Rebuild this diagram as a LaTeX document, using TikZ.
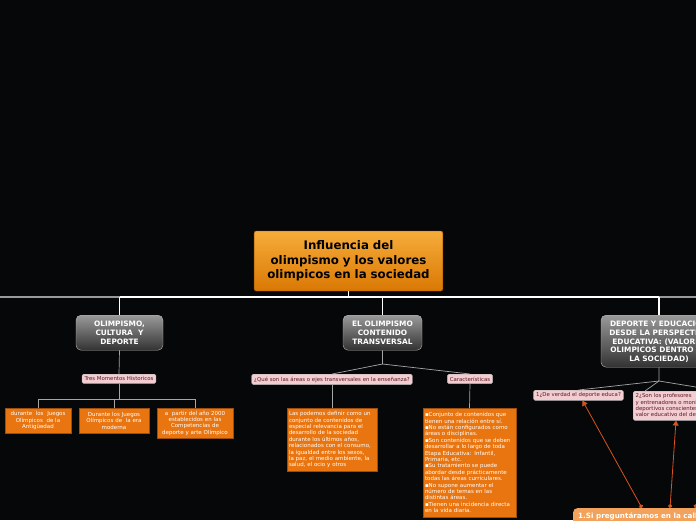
\documentclass[tikz,border=0pt]{standalone}
\usepackage{fontspec}
\setmainfont{DejaVu Sans}
\usetikzlibrary{positioning, arrows.meta}
\definecolor{bgdark}{HTML}{060709}
\definecolor{mainorange}{HTML}{F7AC3A}
\definecolor{maindeep}{HTML}{D97804}
\definecolor{leaforange}{HTML}{E97510}
\definecolor{leafedge}{HTML}{9E4E0C}
\definecolor{labelpink}{HTML}{F2CDD1}
\definecolor{labeltext}{HTML}{5A1A22}
\definecolor{linkred}{HTML}{D8531E}
\definecolor{paleorange}{HTML}{F2A25A}

\tikzset{
  titlebox/.style={rounded corners=2pt, top color=mainorange, bottom color=maindeep,
    draw=maindeep!70!black, minimum width=185pt, minimum height=60pt, align=center,
    text width=182pt, font=\fontsize{11.8}{14.5}\selectfont\bfseries},
  topicbox/.style={rounded corners=5pt, top color=gray!80, bottom color=black!80,
    draw=gray!55, text=white, align=center, inner sep=2pt,
    font=\fontsize{7.4}{8.6}\selectfont\bfseries},
  labelbox/.style={rounded corners=1.5pt, fill=labelpink, draw=gray!60, text=labeltext,
    font=\fontsize{5.4}{6.3}\selectfont, inner sep=2.5pt},
  leafbox/.style={fill=leaforange, draw=leafedge, text=white, inner sep=2pt,
    font=\fontsize{5.5}{6.4}\selectfont},
  bus/.style={white, line width=1.4pt},
  twig/.style={gray!70, line width=0.7pt},
  link/.style={linkred, line width=0.8pt, {Circle[length=4pt]}-{Triangle[length=5pt, width=6pt]}},
}

\begin{document}
\begin{tikzpicture}[x=1pt, y=-1pt]
  \useasboundingbox (0,0) rectangle (696,520);
  \clip (0,0) rectangle (696,520);
  \fill[bgdark] (0,0) rectangle (696,520);

  % central topic
  \node[titlebox] (title) at (348.5,261) {Influencia del\\olimpismo y los valores\\olimpicos en la sociedad};

  % main topics
  \node[topicbox, minimum width=87pt, minimum height=35pt, anchor=north] (t1) at (119.5,315)
    {OLIMPISMO,\\CULTURA\ \ Y\\DEPORTE};
  \node[topicbox, minimum width=79pt, minimum height=35pt, anchor=north] (t2) at (382.5,315)
    {EL OLIMPISMO\\CONTENIDO\\TRANSVERSAL};
  \node[topicbox, minimum width=116pt, minimum height=52pt, anchor=north] (t3) at (659,315)
    {DEPORTE Y EDUCACIÓN\\DESDE LA PERSPECTIVA\\EDUCATIVA: (VALORES\\OLIMPICOS DENTRO DE\\LA SOCIEDAD)};

  % labels
  \node[labelbox, anchor=north] (l1) at (119,374) {Tres Momentos Historicos};
  \node[labelbox, anchor=north] (l2) at (332,374) {¿Qué son las áreas o ejes transversales en la enseñanza?};
  \node[labelbox, anchor=north] (l3) at (470,374) {Características};
  \node[labelbox, anchor=north] (l4) at (578.5,390) {1¿De verdad el deporte educa?};
  \node[labelbox, anchor=north west, align=left] (l5) at (633,391)
    {2¿Son los profesores\\y entrenadores o monitores\\deportivos conscientes del\\valor educativo del deporte?};

  % leaves
  \node[leafbox, text width=62pt, minimum height=25pt, align=center, anchor=north] (a1) at (38,408)
    {durante\ \ los\ \ Juegos\\Olímpicos\ \ de la\\Antigüedad};
  \node[leafbox, text width=66pt, minimum height=25pt, align=center, anchor=north] (a2) at (114,408)
    {Durante los Juegos\\Olímpicos de\ \ la era\\moderna};
  \node[leafbox, text width=72pt, minimum height=30pt, align=center, anchor=north] (a3) at (195,408)
    {a\ \ partir del año 2000\\establecidos en las\\Competencias de\\deporte y arte Olímpico};
  \node[leafbox, text width=86pt, minimum height=63pt, align=left, anchor=north] (b1) at (332,408)
    {Las podemos definir como un\\conjunto de contenidos de\\especial relevancia para el\\desarrollo de la sociedad\\durante los últimos años,\\relacionados con el consumo,\\la igualdad entre los sexos,\\la paz, el medio ambiente, la\\salud, el ocio y otros};
  \node[leafbox, text width=89pt, minimum height=109pt, align=left, anchor=north] (b2) at (469.5,408)
    {▪Conjunto de contenidos que\\tienen una relación entre sí.\\▪No están configurados como\\áreas o disciplinas.\\▪Son contenidos que se deben\\desarrollar a lo largo de toda\\Etapa Educativa: Infantil,\\Primaria, etc.\\▪Su tratamiento se puede\\abordar desde prácticamente\\todas las áreas curriculares.\\▪No supone aumentar el\\número de temas en las\\distintas áreas.\\▪Tienen una incidencia directa\\en la vida diaria.};
  \node[rounded corners=4pt, fill=paleorange, text=white, anchor=north west, minimum height=20pt,
    font=\fontsize{7.2}{9}\selectfont\bfseries, inner sep=5pt, text depth=8pt] (c1) at (573,508)
    {1.Si preguntáramos en la calle};

  % main bus
  \coordinate (hub) at (348.5,297);
  \coordinate (busW) at (0,297);
  \coordinate (busE) at (696,297);
  \draw[bus] (title.south) -- (hub);
  \draw[gray!80, line width=1.4pt] (busW) -- (t1.north |- hub);
  \draw[gray!80, line width=1.4pt] (t3.north |- hub) -- (busE);
  \draw[bus] (t1.north |- hub) -- (t3.north |- hub);
  \draw[bus] (t1.north |- hub) -- (t1.north);
  \draw[bus] (t2.north |- hub) -- (t2.north);
  \draw[bus] (t3.north |- hub) -- (t3.north);

  % first branch
  \coordinate (j1) at (119,399);
  \draw[twig] (t1.south) -- (l1.north);
  \draw[twig] (l1.south) -- (j1);
  \draw[twig] (a1.north) -- (a1.north |- j1) -- (a3.north |- j1) -- (a3.north);
  \draw[twig] (a2.north |- j1) -- (a2.north);

  % second branch
  \coordinate (j2) at (382.5,364);
  \draw[twig] (t2.south) -- (j2) -- (l2.north);
  \draw[twig] (j2) -- (l3.north);
  \draw[twig] (l2.south) -- (b1.north);
  \draw[twig] (l3.south) -- (b2.north);

  % third branch
  \coordinate (j3) at (659,381);
  \coordinate (offE) at (702,388);
  \draw[twig] (t3.south) -- (j3) -- (l4.north);
  \draw[twig] (j3) -- ([xshift=12pt]l5.north west);
  \draw[twig] (j3) -- (offE);

  % relations
  \coordinate (offR) at (720,430);
  \draw[link] ([xshift=69pt]c1.north west) -- ([xshift=4pt]l4.south);
  \draw[link] ([xshift=97pt]c1.north west) -- ([xshift=43pt]l5.south west);
  \draw[link] ([xshift=122pt]c1.north west) -- (offR);
\end{tikzpicture}
\end{document}
